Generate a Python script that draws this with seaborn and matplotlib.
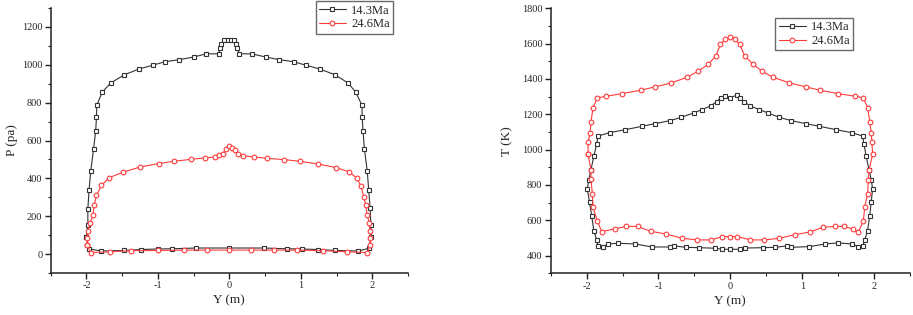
import matplotlib
matplotlib.use("Agg")
import matplotlib.pyplot as plt
import seaborn as sns
import pandas as pd
from matplotlib.ticker import MultipleLocator

sns.set_style("ticks")
plt.rcParams['font.family'] = ['Liberation Serif', 'DejaVu Serif']

labels = ["14.3Ma", "24.6Ma"]
colors = ["#333333", "#ff3b3b"]
markers = ["s", "o"]

# ---- Pressure panel ----
p143_y = [-2.0, -1.98, -1.98, -1.963, -1.94, -1.90, -1.87, -1.86, -1.855, -1.78, -1.66, -1.47, -1.27, -1.07,
          -0.90, -0.70, -0.50, -0.32, -0.15, -0.13, -0.11, -0.07, -0.02, 0.03, 0.07, 0.09, 0.11, 0.14,
          0.31, 0.51, 0.70, 0.90, 1.07, 1.27, 1.48, 1.66, 1.77, 1.855, 1.86, 1.87, 1.89, 1.93, 1.95,
          1.97, 1.98, 1.986, 1.95, 1.80, 1.48, 1.24, 1.01, 0.80, 0.48, 0.0, -0.47, -0.80, -1.0, -1.24,
          -1.47, -1.79, -1.96, -2.0]
p143_p = [88, 156, 239, 340, 437, 556, 651, 722, 786, 855, 904, 947, 977, 998,
          1016, 1027, 1041, 1058, 1058, 1087, 1110, 1129, 1129, 1129, 1129, 1110, 1087, 1058,
          1058, 1041, 1027, 1016, 998, 977, 947, 904, 855, 786, 722, 651, 556, 437, 340,
          242, 156, 92, 30, 16, 19, 24, 27, 28, 32, 32, 32, 28, 27, 24,
          19, 16, 27, 88]

p246_y = [-1.99, -1.99, -1.98, -1.95, -1.91, -1.89, -1.86, -1.79, -1.68, -1.49, -1.25, -0.99, -0.78,
          -0.53, -0.34, -0.20, -0.14, -0.09, -0.05, 0.0, 0.04, 0.08, 0.12, 0.19, 0.34, 0.52, 0.77,
          0.99, 1.24, 1.49, 1.68, 1.78, 1.84, 1.88, 1.91, 1.93, 1.96, 1.97, 1.975, 1.97, 1.93, 1.64,
          1.31, 0.95, 0.63, 0.30, 0.0, -0.31, -0.63, -1.0, -1.38, -1.67, -1.94, -1.99]
p246_p = [48, 85, 120, 162, 207, 260, 310, 363, 404, 432, 460, 478, 490,
          501, 508, 513, 522, 531, 555, 570, 563, 549, 527, 520, 513, 506, 499,
          490, 476, 457, 434, 402, 361, 304, 258, 204, 163, 124, 85, 48, 8, 12,
          18, 21, 21, 21, 21, 21, 21, 19, 18, 12, 8, 48]

# ---- Temperature panel ----
t143_y = [-1.77, -1.84, -1.86, -1.90, -1.93, -1.96, -1.99, -1.97, -1.94, -1.90, -1.86, -1.84, -1.68,
          -1.46, -1.23, -1.05, -0.84, -0.68, -0.51, -0.39, -0.27, -0.19, -0.13, -0.08, 0.0, 0.09,
          0.13, 0.19, 0.27, 0.40, 0.52, 0.68, 0.85, 1.05, 1.24, 1.47, 1.69, 1.84, 1.86, 1.89, 1.93,
          1.96, 1.98, 1.96, 1.94, 1.91, 1.87, 1.84, 1.78, 1.69, 1.50, 1.32, 1.10, 0.84, 0.79, 0.62,
          0.45, 0.21, 0.13, 0.0, -0.11, -0.22, -0.43, -0.62, -0.78, -0.84, -1.09, -1.32, -1.57,
          -1.70, -1.77]
t143_t = [451, 453, 489, 542, 627, 703, 778, 829, 886, 962, 1032, 1077, 1096,
          1113, 1132, 1147, 1164, 1183, 1208, 1227, 1249, 1272, 1295, 1304, 1295, 1308,
          1295, 1272, 1249, 1227, 1208, 1183, 1164, 1147, 1132, 1113, 1096, 1077, 1032, 962, 886,
          829, 778, 703, 627, 542, 489, 453, 451, 466, 472, 466, 451, 447, 455, 447,
          445, 443, 436, 436, 436, 442, 445, 447, 455, 449, 449, 466, 470,
          466, 451]

t246_y = [-1.98, -1.98, -1.95, -1.94, -1.91, -1.85, -1.73, -1.51, -1.25, -1.05, -0.82, -0.60, -0.45,
          -0.31, -0.20, -0.14, -0.07, 0.0, 0.06, 0.13, 0.20, 0.32, 0.44, 0.59, 0.82, 1.05, 1.25,
          1.50, 1.74, 1.85, 1.91, 1.94, 1.96, 1.97, 1.98, 1.93, 1.92, 1.91, 1.87, 1.85, 1.78, 1.70,
          1.58, 1.46, 1.29, 1.11, 0.90, 0.68, 0.47, 0.28, 0.09, 0.0, -0.11, -0.27, -0.46, -0.67,
          -0.90, -1.11, -1.29, -1.45, -1.61, -1.79, -1.85, -1.91, -1.92, -1.94, -1.94, -1.98]
t246_t = [973, 1043, 1096, 1157, 1238, 1293, 1302, 1317, 1336, 1355, 1378, 1410, 1444,
          1482, 1531, 1596, 1624, 1637, 1626, 1596, 1531, 1482, 1444, 1410, 1378, 1355, 1336,
          1317, 1302, 1293, 1238, 1157, 1096, 1043, 973, 886, 826, 750, 674, 595, 532, 551,
          566, 565, 561, 534, 519, 498, 489, 489, 508, 508, 508, 489, 489, 498,
          523, 538, 565, 566, 551, 536, 595, 674, 750, 831, 886, 973]

W, H = 913, 315
fig = plt.figure(figsize=(W / 100, H / 100), dpi=100)
ax1 = fig.add_axes([50.7 / W, 1 - 273 / H, (408 - 50.7) / W, (273 - 8) / H])
ax2 = fig.add_axes([550.7 / W, 1 - 273.3 / H, (910 - 550.7) / W, (273.3 - 8.3) / H])

def draw(ax, xs, ys):
    for x, y, lab, c, m in zip(xs, ys, labels, colors, markers):
        df = pd.DataFrame({"x": x, "y": y})
        sns.lineplot(data=df, x="x", y="y", ax=ax, sort=False, estimator=None,
                     color=c, lw=0.8, marker=m, markersize=3.4,
                     markerfacecolor="white", markeredgecolor=c, markeredgewidth=0.8,
                     label=lab)

draw(ax1, [p143_y, p246_y], [p143_p, p246_p])
draw(ax2, [t143_y, t246_y], [t143_t, t246_t])

ax1.set_xlim(-2.5, 2.5)
ax1.set_ylim(-100, 1300)
ax1.yaxis.set_major_locator(MultipleLocator(200))
ax1.yaxis.set_minor_locator(MultipleLocator(100))
ax1.set_ylabel("P (pa)", fontsize=9.5, labelpad=3)

ax2.set_xlim(-2.5, 2.5)
ax2.set_ylim(300, 1800)
ax2.yaxis.set_major_locator(MultipleLocator(200))
ax2.yaxis.set_minor_locator(MultipleLocator(100))
ax2.set_ylabel("T (K)", fontsize=9.5, labelpad=6)

for ax in (ax1, ax2):
    ax.xaxis.set_major_locator(MultipleLocator(1))
    ax.xaxis.set_minor_locator(MultipleLocator(0.5))
    ax.set_xticks([-2, -1, 0, 1, 2])
    ax.set_xticklabels(["-2", "-1", "0", "1", "2"])
    ax.set_xlabel("Y (m)", fontsize=9.5, labelpad=3)
    ax.tick_params(which="major", direction="out", length=4, width=1, labelsize=7.5, pad=2, color="#222222")
    ax.tick_params(which="minor", direction="out", length=2.5, width=0.8, color="#222222")
    for s in ("top", "right"):
        ax.spines[s].set_visible(False)
    for s in ("left", "bottom"):
        ax.spines[s].set_linewidth(1.1)
        ax.spines[s].set_color("#222222")

leg_kw = dict(loc="upper right", fontsize=9, frameon=True, fancybox=False,
              edgecolor="#444444", borderpad=0.25, handlelength=2.2, handletextpad=0.4,
              labelspacing=0.15, borderaxespad=0)
leg1 = ax1.legend(bbox_to_anchor=(0.958, 1.025), **leg_kw)
leg2 = ax2.legend(bbox_to_anchor=(0.841, 0.963), **leg_kw)
for leg in (leg1, leg2):
    leg.get_frame().set_linewidth(1.0)

fig.savefig("out.png", dpi=100)
